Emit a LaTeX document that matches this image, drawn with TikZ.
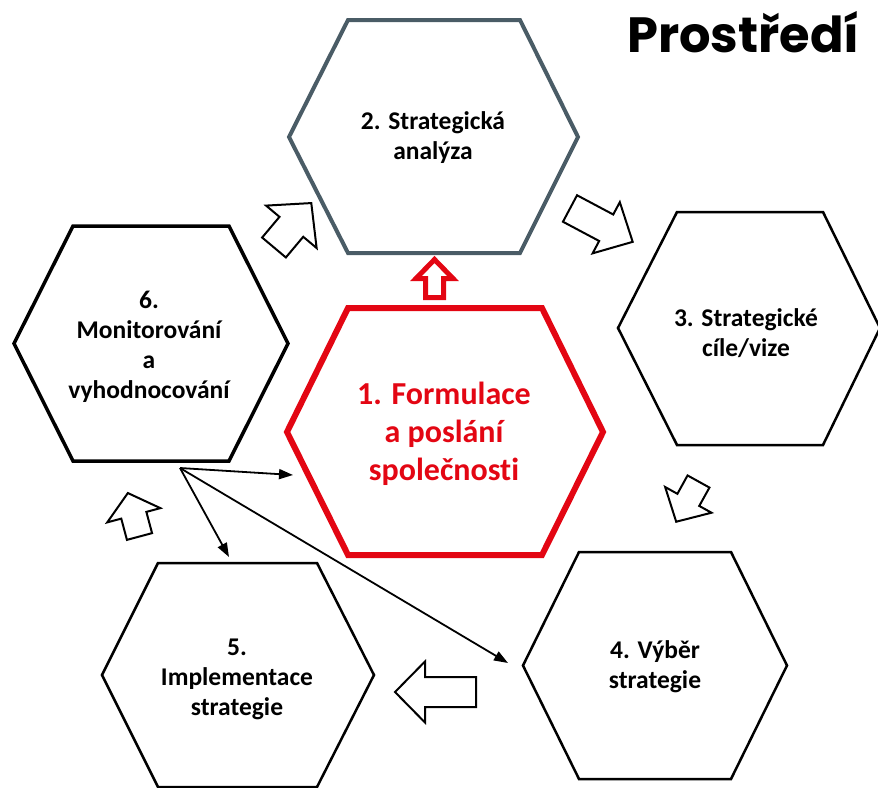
\documentclass[tikz,border=0pt]{standalone}
\usepackage{fontspec}
\setmainfont{Carlito}[Ligatures={NoCommon}]
\newfontfamily\titlefont{Poppins}
\usetikzlibrary{arrows.meta}
\definecolor{slate}{RGB}{74,92,102}
\definecolor{brandred}{RGB}{227,6,19}
\tikzset{
  hexline/.style={line join=miter, line width=#1},
  hexlabel/.style={align=center, inner sep=0pt, font=\fontsize{25.5}{30}\selectfont\bfseries},
  redlabel/.style={align=center, inner sep=0pt, text=brandred, font=\fontsize{32}{38}\selectfont\bfseries},
  blockarrow/.style={draw=black, fill=white, line width=2pt, line join=miter},
  redarrow/.style={draw=brandred, fill=white, line width=5pt, line join=miter},
  thinarrow/.style={line width=1.8pt, -{Triangle[length=14pt,width=10pt]}},
  pics/barrow/.style n args={4}{code={
    % #1 length, #2 head width, #3 shaft width, #4 head length
    \path[pic actions] (0,{-#3/2}) -- ({#1-#4},{-#3/2}) -- ({#1-#4},{-#2/2}) -- (#1,0)
      -- ({#1-#4},{#2/2}) -- ({#1-#4},{#3/2}) -- (0,{#3/2}) -- cycle;
  }}
}
\begin{document}
\begin{tikzpicture}[x=1pt,y=-1pt]
\useasboundingbox (0,0) rectangle (878,787);
\clip (0,0) rectangle (878,787);

% title
\node[anchor=base west, inner sep=0pt, font=\titlefont\bfseries\fontsize{49.5}{55}\selectfont] (title) at (627,52) {Prostředí};

% hexagons
\draw[hexline=4pt, draw=slate] (289,137) -- (348,20) -- (520,20) -- (578,137) -- (520,253) -- (348,253) -- cycle;
\draw[hexline=3.5pt] (14,343.5) -- (73,226) -- (229,226) -- (288,343.5) -- (229,461) -- (73,461) -- cycle;
\draw[hexline=2.5pt] (618,328) -- (677,212) -- (823,212) -- (880,328) -- (823,445) -- (677,445) -- cycle;
\draw[hexline=6pt, draw=brandred] (287,432) -- (348,308) -- (542,308) -- (603,432) -- (542,555) -- (348,555) -- cycle;
\draw[hexline=2.5pt] (523,665.5) -- (579,552) -- (731,552) -- (787,665.5) -- (731,779) -- (579,779) -- cycle;
\draw[hexline=2.5pt] (102,675) -- (158,563) -- (317,563) -- (374,675) -- (317,787) -- (158,787) -- cycle;

% labels
\node[redlabel] (t1) at (444,434) {1. Formulace\\a poslání\\společnosti};
\node[hexlabel] (t2) at (433,138) {2. Strategická\\analýza};
\node[hexlabel] (t3) at (746,333) {3. Strategické\\cíle/vize};
\node[hexlabel] (t4) at (655,667) {4. Výběr\\strategie};
\node[hexlabel] (t5) at (237,679) {5.\\Implementace\\strategie};
\node[hexlabel] (t6) at (149,347) {6.\\Monitorování\\a\\vyhodnocování};

% block arrows
\pic[blockarrow, rotate=50] (a62) at (274,247.5) {barrow={58}{66}{31}{31}};
\pic[blockarrow, rotate=-28] (a23) at (570,208.5) {barrow={71}{58}{30}{30}};
\pic[blockarrow, rotate=-119] (a34) at (698.5,481.5) {barrow={46}{53}{25}{25}};
\pic[blockarrow, rotate=180] (a45) at (476,692) {barrow={81}{61}{30}{30}};
\pic[blockarrow, rotate=105] (a56) at (139.5,536.5) {barrow={45}{55}{26}{23}};
\pic[redarrow, rotate=90] (a12) at (434.5,297.5) {barrow={38}{37}{18}{19}};

% thin connectors
\coordinate (src) at (180,468);
\coordinate (e1) at (293,475);
\coordinate (e5) at (229,557);
\coordinate (e4) at (508,663);
\draw[thinarrow] (src) -- (e1);
\draw[thinarrow] (src) -- (e5);
\draw[thinarrow] (src) -- (e4);
\end{tikzpicture}
\end{document}
